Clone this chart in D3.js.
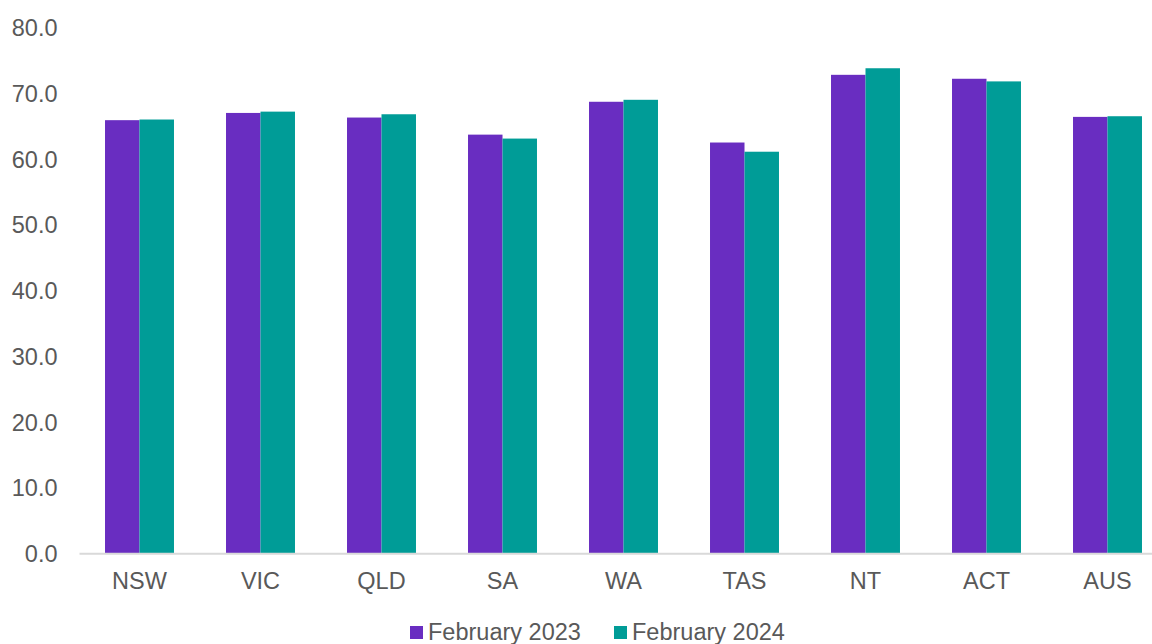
<!DOCTYPE html>
<html><head><meta charset="utf-8">
<script src="https://cdn.jsdelivr.net/npm/d3@7"></script>
<style>body{margin:0;background:#fff}svg{display:block}text{font-family:"Liberation Sans",Arial,sans-serif;fill:#595959}</style>
</head><body><svg id="c" width="1152" height="644"></svg>
<script>
const categories = ["NSW","VIC","QLD","SA","WA","TAS","NT","ACT","AUS"];
const seriesNames = ["February 2023","February 2024"];
const feb2023 = [65.9,67.0,66.3,63.7,68.7,62.5,72.8,72.2,66.4];
const feb2024 = [66.0,67.2,66.8,63.1,69.0,61.1,73.8,71.8,66.5];
const yTicks = [0,10,20,30,40,50,60,70,80];
const colors = ["#692DC1","#009C97"];

const svg = d3.select("#c");
const L = 79, R = 1168, T = 27.5, B = 553.3;
const x0 = d3.scaleBand().domain(categories).range([L,R]).paddingInner(0.43).paddingOuter(0.215);
const x1 = d3.scaleBand().domain(seriesNames).range([0,x0.bandwidth()]);
const y = d3.scaleLinear().domain([0,80]).range([B,T]);
const series = [feb2023, feb2024];

// y axis labels
const yAxis = d3.axisLeft(y).tickValues(yTicks).tickFormat(d3.format(".1f")).tickSize(0).tickPadding(0);
const ya = svg.append("g").attr("transform","translate(57.5,0)").call(yAxis);
ya.select(".domain").remove();
ya.selectAll("text").style("font-size","23.5px").attr("fill","#595959").attr("dy","0.35em");

// bars
const g = svg.append("g");
categories.forEach((c,i)=>{
  series.forEach((s,j)=>{
    g.append("rect")
      .attr("x", x0(c)+x1(seriesNames[j]))
      .attr("width", x1.bandwidth())
      .attr("y", y(s[i]))
      .attr("height", y(0)-y(s[i]))
      .attr("fill", colors[j]);
  });
});

// x axis
const xAxis = d3.axisBottom(x0).tickSize(0).tickPadding(0);
const xa = svg.append("g").attr("transform",`translate(0,${B})`).call(xAxis);
xa.select(".domain").attr("stroke","#d9d9d9").attr("stroke-width",2);
xa.selectAll("text").style("font-size","23.5px").attr("fill","#595959").attr("y",27).attr("dy","0.35em");

// legend
const leg = [{x:410,tx:428},{x:614,tx:632}];
seriesNames.forEach((n,j)=>{
  svg.append("rect").attr("x",leg[j].x).attr("y",626).attr("width",13).attr("height",13).attr("fill",colors[j]);
  svg.append("text").attr("x",leg[j].tx).attr("y",631.5).attr("dy","0.35em").style("font-size","23.5px").text(n);
});
</script></body></html>
